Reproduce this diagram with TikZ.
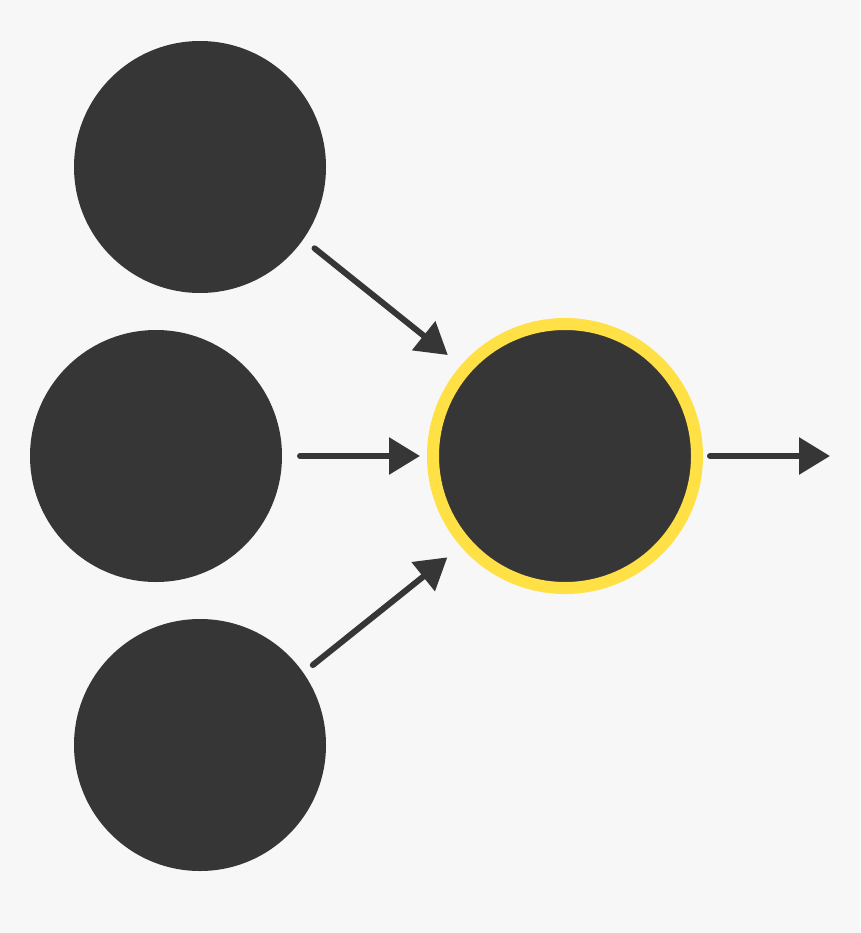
\documentclass[tikz,border=0pt]{standalone}
\usetikzlibrary{arrows.meta}
\definecolor{bg}{HTML}{F7F7F7}
\definecolor{dark}{HTML}{363636}
\definecolor{ring}{HTML}{FFE045}
\begin{document}
\begin{tikzpicture}[x=1pt,y=-1pt,
  neuron/.style={circle,fill=dark,minimum size=252pt,inner sep=0pt,outer sep=0pt},
  outneuron/.style={circle,fill=dark,draw=ring,line width=12pt,minimum size=264pt,inner sep=0pt},
  conn/.style={draw=dark,line width=6pt,line cap=round,-{Triangle[length=31pt,width=36pt]}}]
\fill[bg] (0,0) rectangle (860,933);
\useasboundingbox (0,0) rectangle (860,933);
\node[neuron] (top) at (200,167) {};
\node[neuron] (mid) at (156,456) {};
\node[neuron] (bot) at (200,745) {};
\node[outneuron] (out) at (565,456) {};
\coordinate (end) at (830,456);
\draw[conn,shorten <=14.5pt,shorten >=16.7pt] (top.-35.3) -- (out.139.7);
\draw[conn,shorten <=18pt,shorten >=7pt] (mid) -- (out);
\draw[conn,shorten <=12.3pt,shorten >=17.3pt] (bot.35.4) -- (out.-139.4);
\draw[conn,shorten <=7pt] (out) -- (end);
\end{tikzpicture}
\end{document}
